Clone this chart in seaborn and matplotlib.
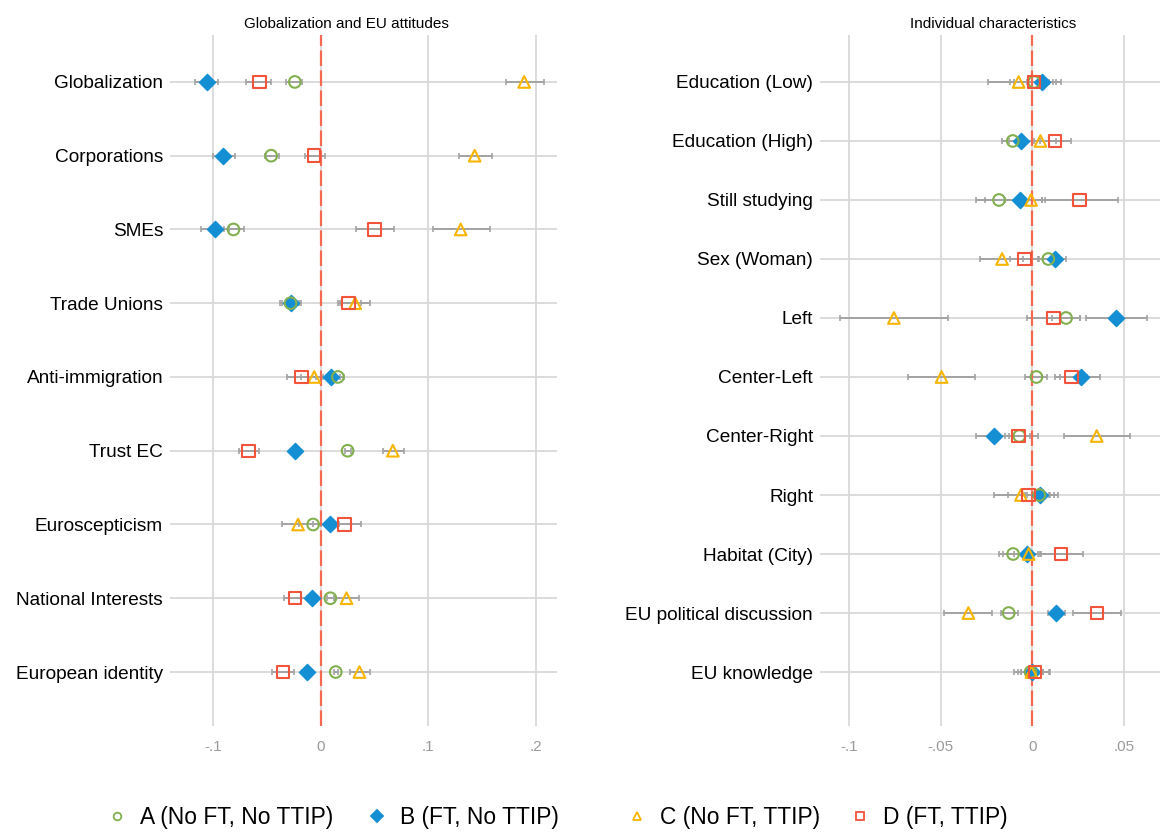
import numpy as np
import pandas as pd
import matplotlib
matplotlib.use('Agg')
import matplotlib.pyplot as plt
from matplotlib.lines import Line2D
import seaborn as sns

# ---- data: left panel (Globalization and EU attitudes)
labels_l = ["Globalization", "Corporations", "SMEs", "Trade Unions", "Anti-immigration",
            "Trust EC", "Euroscepticism", "National Interests", "European identity"]
A_est_l = [-0.024, -0.046, -0.081, -0.028, 0.016, 0.025, -0.007, 0.009, 0.014]
A_lo_l = [-0.032, -0.052, -0.090, -0.036, 0.010, 0.023, -0.020, 0.006, 0.012]
A_hi_l = [-0.017, -0.039, -0.071, -0.020, 0.022, 0.028, 0.005, 0.012, 0.016]
B_est_l = [-0.106, -0.091, -0.098, -0.028, 0.010, -0.024, 0.009, -0.008, -0.013]
B_lo_l = [-0.117, -0.100, -0.111, -0.038, 0.002, -0.028, 0.000, -0.013, -0.017]
B_hi_l = [-0.095, -0.080, -0.085, -0.018, 0.018, -0.021, 0.017, -0.003, -0.009]
C_est_l = [0.189, 0.143, 0.130, 0.032, -0.006, 0.067, -0.021, 0.024, 0.036]
C_lo_l = [0.172, 0.128, 0.104, 0.018, -0.018, 0.058, -0.036, 0.013, 0.027]
C_hi_l = [0.207, 0.159, 0.157, 0.046, 0.006, 0.077, -0.007, 0.036, 0.046]
D_est_l = [-0.057, -0.006, 0.050, 0.026, -0.018, -0.067, 0.022, -0.024, -0.035]
D_lo_l = [-0.069, -0.015, 0.033, 0.016, -0.031, -0.076, 0.008, -0.034, -0.045]
D_hi_l = [-0.046, 0.004, 0.068, 0.037, -0.004, -0.057, 0.037, -0.013, -0.025]

# ---- data: right panel (Individual characteristics)
labels_r = ["Education (Low)", "Education (High)", "Still studying", "Sex (Woman)", "Left",
            "Center-Left", "Center-Right", "Right", "Habitat (City)",
            "EU political discussion", "EU knowledge"]
A_est_r = [0.001, -0.0107, -0.0182, 0.0087, 0.0184, 0.0022, -0.0071, 0.0038, -0.0105, -0.0129, -0.001]
A_lo_r = [-0.012, -0.0167, -0.0305, 0.003, 0.0105, -0.004, -0.013, -0.004, -0.018, -0.017, -0.008]
A_hi_r = [0.011, -0.004, -0.006, 0.014, 0.026, 0.0082, -0.0013, 0.0118, -0.003, -0.008, 0.006]
B_est_r = [0.0051, -0.0062, -0.0065, 0.0124, 0.0456, 0.0264, -0.0209, 0.0042, -0.0027, 0.0129, 0.0]
B_lo_r = [-0.003, -0.013, -0.026, 0.006, 0.0293, 0.015, -0.031, -0.003, -0.010, 0.0087, -0.006]
B_hi_r = [0.0155, 0.001, 0.007, 0.0185, 0.0624, 0.0369, -0.011, 0.0138, 0.0047, 0.018, 0.006]
C_est_r = [-0.0075, 0.0044, -0.0007, -0.0165, -0.0755, -0.0495, 0.0351, -0.0062, -0.002, -0.0349, -0.0005]
C_lo_r = [-0.0242, -0.004, -0.015, -0.0284, -0.105, -0.0676, 0.0175, -0.021, -0.016, -0.048, -0.010]
C_hi_r = [0.009, 0.013, 0.005, -0.005, -0.0458, -0.0313, 0.0533, 0.009, 0.0042, -0.0218, 0.009]
D_est_r = [0.001, 0.0125, 0.0258, -0.0042, 0.0115, 0.0213, -0.0075, -0.002, 0.0155, 0.0351, 0.0015]
D_lo_r = [-0.010, 0.004, 0.005, -0.0122, -0.003, 0.0124, -0.015, -0.0135, 0.0033, 0.0224, -0.006]
D_hi_r = [0.013, 0.021, 0.0465, 0.0038, 0.026, 0.030, 0.0029, 0.0096, 0.0278, 0.0482, 0.0096]

group_names = ["A (No FT, No TTIP)", "B (FT, No TTIP)", "C (No FT, TTIP)", "D (FT, TTIP)"]
xticks_l = [-0.1, 0, 0.1, 0.2]
xticklabels_l = ["-.1", "0", ".1", ".2"]
xticks_r = [-0.1, -0.05, 0, 0.05]
xticklabels_r = ["-.1", "-.05", "0", ".05"]

# ---- styles
styles = {
    "A (No FT, No TTIP)": dict(marker="o", color="#82b04e", filled=False, s=70, ms=5.5),
    "B (FT, No TTIP)": dict(marker="D", color="#148fd3", filled=True, s=68, ms=6.5),
    "C (No FT, TTIP)": dict(marker="^", color="#f7b500", filled=False, s=70, ms=6),
    "D (FT, TTIP)": dict(marker="s", color="#f2533b", filled=False, s=80, ms=6),
}
draw_order = ["B (FT, No TTIP)", "A (No FT, No TTIP)", "C (No FT, TTIP)", "D (FT, TTIP)"]
legend_x = [0.0948, 0.3190, 0.5431, 0.7353]


def make_frame(labels, ests, los, his):
    rows = []
    for g, e, lo, hi in zip(group_names, ests, los, his):
        for i, lab in enumerate(labels):
            rows.append(dict(group=g, label=lab, pos=i, est=e[i], lo=lo[i], hi=hi[i]))
    return pd.DataFrame(rows)


df_l = make_frame(labels_l, [A_est_l, B_est_l, C_est_l, D_est_l],
                  [A_lo_l, B_lo_l, C_lo_l, D_lo_l], [A_hi_l, B_hi_l, C_hi_l, D_hi_l])
df_r = make_frame(labels_r, [A_est_r, B_est_r, C_est_r, D_est_r],
                  [A_lo_r, B_lo_r, C_lo_r, D_lo_r], [A_hi_r, B_hi_r, C_hi_r, D_hi_r])

sns.set_style("white")
plt.rcParams['font.family'] = ['Liberation Sans', 'DejaVu Sans']
plt.rcParams['text.color'] = 'black'

fig = plt.figure(figsize=(11.6, 8.32), dpi=100)
ax_l = fig.add_axes([0.1466, 0.1274, 0.3336, 0.8306])
ax_r = fig.add_axes([0.7069, 0.1274, 0.2931, 0.8306])


def draw_panel(ax, df, labels, xlim, ylim, ticks, ticklabels, title, title_x):
    n = len(labels)
    for i in range(n):
        ax.axhline(i, color="#d9d9d9", lw=1.3, zorder=0.5)
    for t in ticks:
        ax.axvline(t, color="#d9d9d9", lw=1.3, zorder=0.5)
    for g in draw_order:
        sub = df[df.group == g]
        ax.errorbar(sub.est, sub.pos,
                    xerr=[sub.est - sub.lo, sub.hi - sub.est],
                    fmt="none", ecolor="#a3a3a3", elinewidth=1.4,
                    capsize=2.5, capthick=1.2, zorder=2)
    ax.axvline(0, color="#f46a50", lw=1.6, dashes=(7, 2), zorder=2.5)
    for g in draw_order:
        st = styles[g]
        sub = df[df.group == g]
        if st["filled"]:
            sns.scatterplot(data=sub, x="est", y="pos", ax=ax, marker=st["marker"],
                            s=st["s"], color=st["color"], edgecolor=st["color"],
                            linewidth=1, zorder=3, legend=False)
        else:
            sns.scatterplot(data=sub, x="est", y="pos", ax=ax, marker=st["marker"],
                            s=st["s"], facecolor="none", edgecolor=st["color"],
                            linewidth=1.5, zorder=3, legend=False)
    ax.set_xlim(*xlim)
    ax.set_ylim(*ylim)
    ax.set_yticks(range(n))
    ax.set_yticklabels(labels, fontsize=13.7, color="black")
    ax.set_xticks(ticks)
    ax.set_xticklabels(ticklabels, fontsize=11, color="#9a9a9a")
    ax.tick_params(axis="both", length=0)
    ax.tick_params(axis="y", pad=5)
    ax.tick_params(axis="x", pad=10)
    ax.set_xlabel("")
    ax.set_ylabel("")
    for sp in ax.spines.values():
        sp.set_visible(False)
    ax.set_title(title, fontsize=11, x=title_x, pad=5, color="black")


draw_panel(ax_l, df_l, labels_l, (-0.1399, 0.2195), (8.732, -0.637), xticks_l, xticklabels_l,
           "Globalization and EU attitudes", 0.455)
draw_panel(ax_r, df_r, labels_r, (-0.1158, 0.0696), (10.915, -0.797), xticks_r, xticklabels_r,
           "Individual characteristics", 0.509)

# legend: one entry per slot, placed like the original
for g, lx in zip(group_names, legend_x):
    st = styles[g]
    h = Line2D([], [], linestyle="none", marker=st["marker"], markersize=st["ms"],
               markerfacecolor=st["color"] if st["filled"] else "none",
               markeredgecolor=st["color"], markeredgewidth=1.3)
    fig.legend([h], [g], loc="center left", bbox_to_anchor=(lx, 0.017),
               frameon=False, fontsize=16.4, handlelength=0.6, handletextpad=0.71,
               borderpad=0, borderaxespad=0, labelcolor="black")

fig.savefig("out.png", dpi=100)
